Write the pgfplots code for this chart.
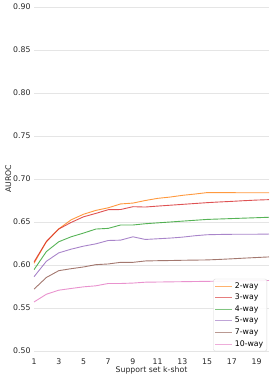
\documentclass[border=0pt]{standalone}
\usepackage{pgfplots}
\pgfplotsset{compat=1.18}
\usepackage{fontspec}
\setmainfont{DejaVu Sans}
\definecolor{tOrange}{HTML}{FF7F0E}
\definecolor{tRed}{HTML}{D62728}
\definecolor{tGreen}{HTML}{2CA02C}
\definecolor{tPurple}{HTML}{9467BD}
\definecolor{tBrown}{HTML}{8C564B}
\definecolor{tPink}{HTML}{E377C2}
\begin{document}
\begin{tikzpicture}
\begin{axis}[
  at={(0,0)}, anchor=south west,
  scale only axis, width=235bp, height=344bp,
  xmin=1, xmax=20, ymin=0.5, ymax=0.9,
  xtick={1,3,...,19},
  ytick={0.50,0.55,0.60,0.65,0.70,0.75,0.80,0.85,0.90},
  yticklabel style={/pgf/number format/fixed, /pgf/number format/fixed zerofill, /pgf/number format/precision=2},
  /pgf/number format/assume math mode=true,
  axis line style={draw=none},
  major tick length=0pt,
  ymajorgrids, xmajorgrids=false,
  grid style={color=black!10, line width=0.8bp},
  tick label style={font=\fontsize{7.8}{9}\selectfont, text=black!85},
  xticklabel style={yshift=-4bp},
  label style={font=\fontsize{7.8}{9}\selectfont, text=black!85},
  xlabel={Support set k-shot},
  ylabel={AUROC},
  xlabel style={yshift=5bp},
  ylabel style={yshift=-5bp},
  every axis plot/.append style={line width=0.9bp, opacity=0.8},
  legend cell align=left,
  legend style={at={(rel axis cs:0.9915,-0.001)}, anchor=south east,
    draw=black!15, rounded corners=2bp, fill=white, fill opacity=0.9, text opacity=1,
    font=\fontsize{7.8}{9}\selectfont, inner sep=1.5bp, row sep=0.4bp},
  legend image code/.code={\draw[#1, opacity=0.6] (0bp,0bp) -- (17bp,0bp);},
]
\addplot[draw=tOrange] coordinates {(1,0.602)(2,0.627)(3,0.642)(4,0.6525)(5,0.659)(6,0.6635)(7,0.6665)(8,0.671)(9,0.672)(10,0.675)(11,0.6775)(12,0.679)(13,0.681)(14,0.6825)(15,0.6842)(16,0.6842)(17,0.6841)(18,0.684)(19,0.684)(20,0.684)};
\addlegendentry{2-way}
\addplot[draw=tRed] coordinates {(1,0.6035)(2,0.6273)(3,0.6418)(4,0.6495)(5,0.656)(6,0.660)(7,0.6643)(8,0.6645)(9,0.6678)(10,0.6674)(11,0.6685)(12,0.6695)(13,0.6705)(14,0.6715)(15,0.6725)(16,0.6733)(17,0.674)(18,0.6748)(19,0.6755)(20,0.676)};
\addlegendentry{3-way}
\addplot[draw=tGreen] coordinates {(1,0.5945)(2,0.6156)(3,0.627)(4,0.6328)(5,0.6371)(6,0.6418)(7,0.6426)(8,0.6465)(9,0.6465)(10,0.648)(11,0.649)(12,0.650)(13,0.651)(14,0.652)(15,0.653)(16,0.6535)(17,0.654)(18,0.6545)(19,0.655)(20,0.6555)};
\addlegendentry{4-way}
\addplot[draw=tPurple] coordinates {(1,0.5863)(2,0.6043)(3,0.6141)(4,0.6184)(5,0.6219)(6,0.6246)(7,0.6285)(8,0.6289)(9,0.6328)(10,0.6297)(11,0.6305)(12,0.6313)(13,0.6324)(14,0.634)(15,0.6352)(16,0.6355)(17,0.6357)(18,0.6358)(19,0.6358)(20,0.636)};
\addlegendentry{5-way}
\addplot[draw=tBrown] coordinates {(1,0.5719)(2,0.5855)(3,0.5934)(4,0.5957)(5,0.5977)(6,0.6004)(7,0.6012)(8,0.6031)(9,0.6031)(10,0.6047)(11,0.605)(12,0.6052)(13,0.6055)(14,0.6057)(15,0.6059)(16,0.6065)(17,0.6072)(18,0.608)(19,0.6087)(20,0.6094)};
\addlegendentry{7-way}
\addplot[draw=tPink] coordinates {(1,0.557)(2,0.566)(3,0.5707)(4,0.5727)(5,0.5746)(6,0.5758)(7,0.5785)(8,0.5785)(9,0.579)(10,0.580)(11,0.5802)(12,0.5804)(13,0.5806)(14,0.5808)(15,0.581)(16,0.5812)(17,0.5814)(18,0.5816)(19,0.5818)(20,0.582)};
\addlegendentry{10-way}
\end{axis}
\pgfresetboundingbox
\path (-34bp,-31bp) rectangle (239bp,351bp);
\end{tikzpicture}
\end{document}
